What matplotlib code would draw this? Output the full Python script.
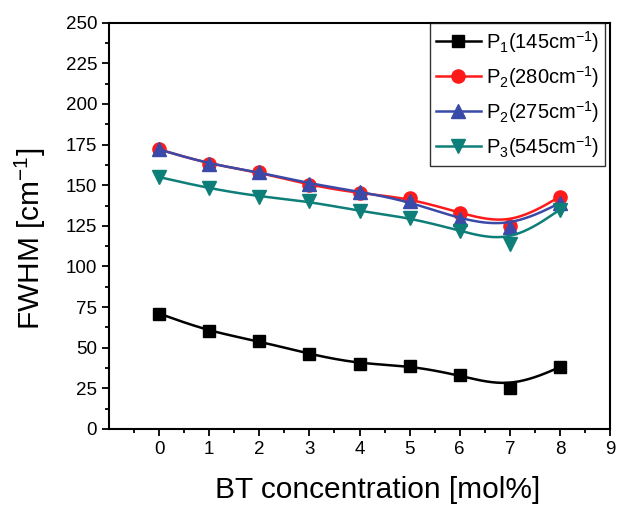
import matplotlib
matplotlib.use('Agg')
import matplotlib.pyplot as plt
import matplotlib.ticker as mticker
import numpy as np

plt.rcParams['font.family'] = ['Liberation Sans', 'DejaVu Sans']
plt.rcParams['mathtext.fontset'] = 'custom'
plt.rcParams['mathtext.rm'] = 'Liberation Sans'
plt.rcParams['mathtext.it'] = 'Liberation Sans:italic'
plt.rcParams['mathtext.default'] = 'regular'

# data
bt_conc = [0, 1, 2, 3, 4, 5, 6, 7, 8]
p1_145 = [71, 60, 54, 46, 40, 39, 33, 25, 38]
p2_280 = [172, 163, 158, 150, 145, 142, 133, 125, 143]
p2_275 = [172, 163, 158, 151, 146, 140, 129, 124, 139]
p3_545 = [155, 148, 143, 140, 134, 130, 122, 114, 135]

labels = [r'P$_1$(145cm$^{-1}$)', r'P$_2$(280cm$^{-1}$)',
          r'P$_2$(275cm$^{-1}$)', r'P$_3$(545cm$^{-1}$)']
colors = ['black', '#ff1a1a', '#3a4aa8', '#0e7f78']
markers = ['s', 'o', '^', 'v']
msizes = [8, 9.5, 9.5, 9.5]


def bspline(x, y, n=40):
    # uniform cubic B-spline, endpoints tripled so the curve is clamped
    px = np.concatenate([[x[0]] * 2, x, [x[-1]] * 2]).astype(float)
    py = np.concatenate([[y[0]] * 2, y, [y[-1]] * 2]).astype(float)
    t = np.linspace(0, 1, n)
    b0 = (1 - t) ** 3 / 6
    b1 = (3 * t ** 3 - 6 * t ** 2 + 4) / 6
    b2 = (-3 * t ** 3 + 3 * t ** 2 + 3 * t + 1) / 6
    b3 = t ** 3 / 6
    xs, ys = [], []
    for i in range(len(px) - 3):
        xs.append(b0 * px[i] + b1 * px[i + 1] + b2 * px[i + 2] + b3 * px[i + 3])
        ys.append(b0 * py[i] + b1 * py[i + 1] + b2 * py[i + 2] + b3 * py[i + 3])
    return np.concatenate(xs), np.concatenate(ys)


fig = plt.figure(figsize=(6.25, 5.07), dpi=100)
ax = fig.add_axes([0.1744, 0.154, 0.8016, 0.8012])

series = [p1_145, p2_280, p2_275, p3_545]
handles = []
for s, c, m, ms, lab in zip(series, colors, markers, msizes, labels):
    sx, sy = bspline(np.array(bt_conc), np.array(s))
    ax.plot(sx, sy, color=c, lw=1.8)
    ax.plot(bt_conc, s, ls='none', marker=m, ms=ms, color=c)
    h, = ax.plot([], [], color=c, lw=1.8, marker=m, ms=ms, label=lab)
    handles.append(h)

ax.set_xlim(-1, 9)
ax.set_ylim(0, 250)
ax.xaxis.set_major_locator(mticker.FixedLocator(range(0, 10)))
ax.xaxis.set_minor_locator(mticker.FixedLocator(np.arange(-0.5, 9, 1.0)))
ax.yaxis.set_major_locator(mticker.MultipleLocator(25))
ax.yaxis.set_minor_locator(mticker.MultipleLocator(12.5))
ax.tick_params(which='major', direction='out', length=5, width=1.3, labelsize=13.5)
ax.tick_params(which='minor', direction='out', length=3, width=1.3)
for sp in ax.spines.values():
    sp.set_linewidth(1.5)

ax.set_xlabel('BT concentration [mol%]', fontsize=21.5)
ax.set_ylabel(r'FWHM [cm$^{-1}$]', fontsize=21.5)
ax.xaxis.set_label_coords(0.537, -0.117)
ax.yaxis.set_label_coords(-0.122, 0.468)

leg = ax.legend(handles=handles, loc='upper right', fontsize=14.5,
                frameon=True, fancybox=False, edgecolor='black',
                handlelength=2.2, handletextpad=0.25, borderpad=0.3,
                labelspacing=0.45, borderaxespad=0.0,
                bbox_to_anchor=(0.99, 1.0))
leg.get_frame().set_linewidth(1.0)

fig.savefig('out.png', dpi=100)
